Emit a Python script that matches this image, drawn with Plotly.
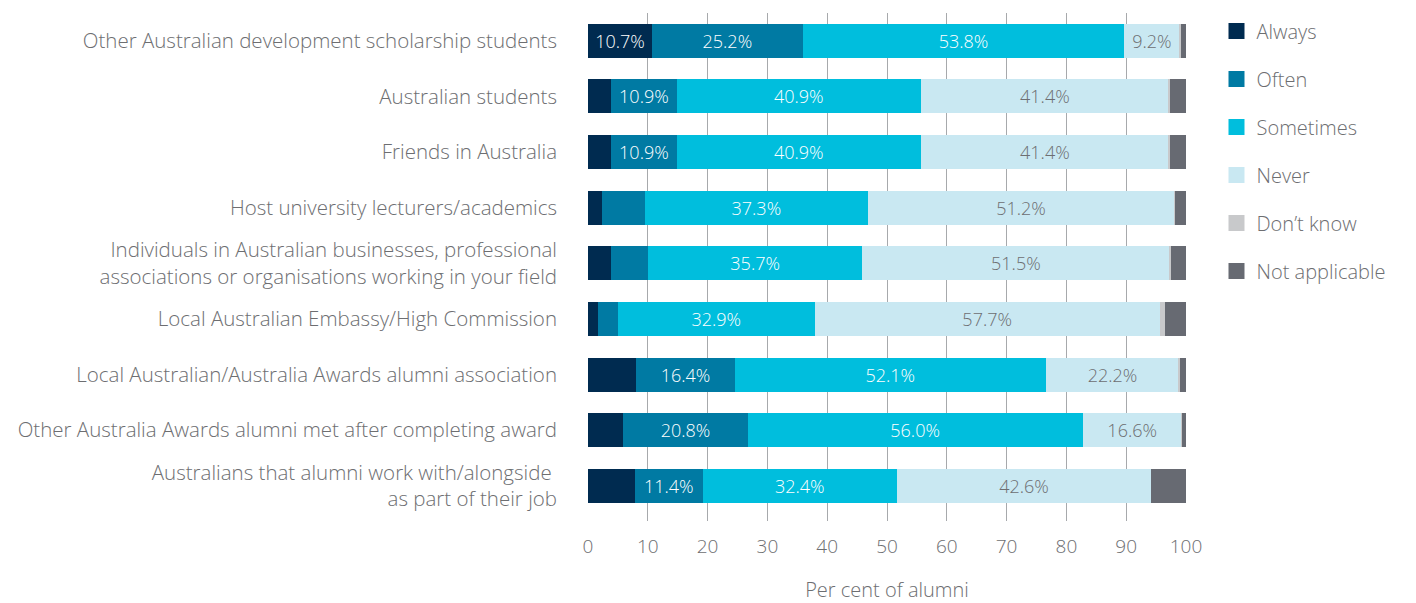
import plotly.graph_objects as go

categories = [
    "Other Australian development scholarship students",
    "Australian students",
    "Friends in Australia",
    "Host university lecturers/academics",
    "Individuals in Australian businesses, professional<br>associations or organisations working in your field",
    "Local Australian Embassy/High Commission",
    "Local Australian/Australia Awards alumni association",
    "Other Australia Awards alumni met after completing award",
    "Australians that alumni work with/alongside <br>as part of their job",
]

always = [10.7, 3.9, 3.9, 2.3, 3.8, 1.6, 8.1, 5.9, 7.8]
often = [25.2, 10.9, 10.9, 7.2, 6.3, 3.4, 16.4, 20.8, 11.4]
sometimes = [53.8, 40.9, 40.9, 37.3, 35.7, 32.9, 52.1, 56.0, 32.4]
never = [9.2, 41.4, 41.4, 51.2, 51.5, 57.7, 22.2, 16.6, 42.6]
dont_know = [0.3, 0.3, 0.3, 0.2, 0.2, 0.9, 0.2, 0.1, 0.0]
not_applicable = [0.8, 2.6, 2.6, 1.8, 2.5, 3.5, 1.0, 0.6, 5.8]

series = [
    ("Always", always, "#002b50", "white"),
    ("Often", often, "#007aa3", "white"),
    ("Sometimes", sometimes, "#00bedd", "white"),
    ("Never", never, "#c9e8f2", "#6d6e71"),
    ("Don\u2019t know", dont_know, "#c8c9cb", "#6d6e71"),
    ("Not applicable", not_applicable, "#676a72", "white"),
]

FONT = "Open Sans"
GREY = "#6d6e71"

fig = go.Figure()
for name, vals, color, txtcol in series:
    labels = [f"{v:.1f}%" if v >= 9 else "" for v in vals]
    fig.add_trace(go.Bar(
        y=categories, x=vals, name=name, orientation="h",
        marker=dict(color=color, line=dict(width=0)),
        text=labels, textposition="inside", insidetextanchor="middle",
        textangle=0, constraintext="none",
        textfont=dict(family=FONT, size=18, color=txtcol, weight=300),
        showlegend=False,
    ))

# legend keys: larger squares than the default bar swatch
for name, vals, color, txtcol in series:
    fig.add_trace(go.Scatter(
        x=[None], y=[None], mode="markers", name=name,
        marker=dict(symbol="square", size=17, color=color),
        legendgroup=name,
    ))

fig.update_layout(
    barmode="stack",
    bargap=0.39,
    width=1408, height=595,
    margin=dict(l=580, r=230, t=5, b=82, autoexpand=False),
    plot_bgcolor="white", paper_bgcolor="white",
    font=dict(family=FONT, size=21, color=GREY, weight=300),
    legend=dict(
        x=1.051, y=1.003, xanchor="left", yanchor="top",
        font=dict(family=FONT, size=20, color=GREY, weight=300),
        tracegroupgap=19, itemwidth=30,
    ),
    xaxis=dict(
        range=[0, 100], tickvals=list(range(0, 101, 10)),
        showgrid=True, gridcolor="#a7a9ac", gridwidth=1,
        zeroline=False, showline=False,
        ticks="outside", ticklen=8, tickcolor="rgba(0,0,0,0)",
        tickfont=dict(size=19, color=GREY),
        title=dict(text="Per cent of alumni", font=dict(size=20, color=GREY), standoff=34),
    ),
    yaxis=dict(
        range=[8.63, -0.5], showgrid=False, showline=False,
        ticks="", ticklabelstandoff=30,
        tickfont=dict(size=20.5, color=GREY),
    ),
)

fig.write_html("out.html")
